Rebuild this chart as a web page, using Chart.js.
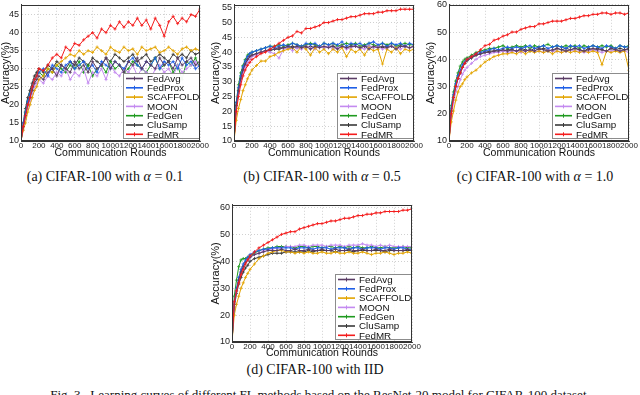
<!DOCTYPE html>
<html>
<head>
<meta charset="utf-8">
<script src="https://cdn.jsdelivr.net/npm/chart.js@4.4.1/dist/chart.umd.min.js"></script>
<style>
  body { margin: 0; background: #fff; width: 640px; height: 395px; overflow: hidden; position: relative; }
  canvas { position: absolute; }
  .cap { position: absolute; font-family: "Liberation Serif", "Times New Roman", serif; font-size: 14px; line-height: 16px; color: #111; white-space: nowrap; transform: translateX(-50%); }
</style>
</head>
<body>
<canvas id="chartA" width="210" height="160" style="left:0px;top:0px"></canvas>
<canvas id="chartB" width="214" height="160" style="left:210px;top:0px"></canvas>
<canvas id="chartC" width="214" height="160" style="left:425px;top:0px"></canvas>
<canvas id="chartD" width="212" height="160" style="left:210px;top:200px"></canvas>

<div class="cap" style="left:105px;top:169px">(a) CIFAR-100 with <i>α</i> = 0.1</div>
<div class="cap" style="left:322px;top:169px">(b) CIFAR-100 with <i>α</i> = 0.5</div>
<div class="cap" style="left:535px;top:169px">(c) CIFAR-100 with <i>α</i> = 1.0</div>
<div class="cap" style="left:315px;top:362px">(d) CIFAR-100 with IID</div>
<div class="cap" style="left:320px;top:387px;font-size:13px">Fig. 3.&nbsp; Learning curves of different FL methods based on the ResNet-20 model for CIFAR-100 dataset.</div>

<script>
const rounds = [0, 25, 50, 75, 100, 125, 150, 175, 200, 250, 300, 350, 400, 450, 500, 550, 600, 650, 700, 750,
    800, 850, 900, 950, 1000, 1050, 1100, 1150, 1200, 1250, 1300, 1350, 1400, 1450, 1500, 1550, 1600, 1650, 1700, 1750,
    1800, 1850, 1900, 1950, 2000];
const methods = ['FedAvg', 'FedProx', 'SCAFFOLD', 'MOON', 'FedGen', 'CluSamp', 'FedMR'];
const colors = ['#5b3d66', '#1f5fe6', '#e3a400', '#c48af0', '#1f9a1f', '#3a3a3a', '#f41c1c'];
const xTicks = [0, 200, 400, 600, 800, 1000, 1200, 1400, 1600, 1800, 2000];

// (a) alpha = 0.1
const accA_FedAvg = [10,14,17,20,22, 24,26,27,28,27, 29,30,28,31,30, 29,32,30,31,29, 32,30,31,33,30, 32,31,29,32,31, 33,30,32,31,30, 33,31,32,30,33, 31,32,33,31,32];
const accA_FedProx = [10,15,18,21,23, 25,27,28,29,30, 28,31,30,29,31, 32,30,31,32,30, 31,29,32,31,30, 32,31,30,32,33, 31,30,32,31,33, 30,32,31,32,30, 33,31,32,30,31];
const accA_SCAFFOLD = [10,13,15,18,20, 22,24,25,27,28, 30,29,31,32,33, 34,33.5,35,34,35, 34.5,36,35,34,36, 35,34.5,36,35,35.5, 34,36,35,35.5,36, 34.5,35,36,35,34, 35.5,36,35,35.5,35];
const accA_MOON = [10,13,16,19,21, 23,25,26,27,26, 28,27,29,28,30, 27,29,28,30,26, 29,28,30,27,31, 29,28,30,29,31, 28,30,29,27,30, 31,29,30,28,31, 29,30,31,32,30];
const accA_FedGen = [10,14,18,21,23, 25,27,28,29,28, 30,29,31,30,29, 31,30,32,29,31, 28,30,31,29,32, 30,31,29,30,32, 31,30,29,31,33, 30,31,32,29,31, 27,32,31,33,30];
const accA_CluSamp = [10,15,19,22,24, 26,28,29,30,29, 31,30,32,31,30, 32,31,33,32,31, 33,32,31,33,32, 34,33,32,33,34, 32,33,34,32,33, 34,33,32,34,33, 34,33,35,34,34.5];
const accA_FedMR = [10,14,17,20,22, 25,27,28,30,29.5, 31,33,34,33,36, 35,37,36.5,38,39, 40,38.5,41,40,42, 41,43,41.5,43,42, 44,42,43.5,41,44, 42,39,43,44.5,42.5, 44,43,45,44.5,46.5];

// (b) alpha = 0.5
const accB_FedAvg = [10,22,27,31,34, 36,37.5,38.5,39,39.5, 40,40.5,41,41,41.5, 41.5,42,41.5,42,41.5, 42,41,42,41.5,42, 41.5,42,41,42,41.5, 42,42,41.5,42,41, 42,41.5,42,41.5,42, 41,42,42,41.5,42];
const accB_FedProx = [10,23,28,32,35, 37,38.5,39.5,40,40.5, 41,41.5,42,41.5,42, 42.5,42,43,42.5,42, 43,42.5,43,42,43, 42.5,43,42.5,43.5,42, 43,42.5,43,42,43, 43.5,42.5,43,42,43, 42.5,43,42,43,42.5];
const accB_SCAFFOLD = [10,17,21,24,27, 29,31,32.5,34,35.5, 37,37,38.5,39,40, 40.5,41,41.5,40,42, 41,39,41.5,40,41, 39.5,41,40,41.5,38.5, 41,40,41,39,41.5, 40.5,41,36,41,40, 41.5,39.5,41,40.5,41];
const accB_MOON = [10,21,26,30,33, 35,36.5,37.5,38.5,39, 40,40.5,40,39.5,38, 41,41.5,40.5,41.5,41, 42,41.5,41,42,41.5, 42,41,41.5,42,41, 41.5,42,41.5,41,42, 41.5,42,41,41.5,42, 41.5,41,42,41.5,42];
const accB_FedGen = [10,23,29,33,35.5, 37.5,39,39.5,40,40.5, 41,41.5,42,42,42.5, 42,42.5,43,42.5,42, 42.5,43,42.5,42,43, 42.5,43,42,42.5,43, 42.5,43,42,42.5,43, 42.5,42,43,42.5,43, 42,42.5,43,42.5,42.5];
const accB_CluSamp = [10,22,27,31,34, 36,37.5,38.5,39,39.5, 40,40.5,40.5,41,41, 41.5,41.5,42,41.5,42, 41.5,42,41.5,42,41.5, 42,42,41.5,42,41.5, 42,42,41.5,42,42, 41.5,42,41.5,42,42, 41.5,42,42,41.5,42];
const accB_FedMR = [10,20,25,29,32, 34,35.5,36.5,37.5,38.5, 39.5,40,41,42,43, 44,45,45.5,47,46.5, 48,48,48.5,49,50, 50,50.5,51,51,51.5, 52,52,52.5,53,53, 53,53.5,53.5,54,54, 54,54.5,54.5,54.5,54.5];

// (c) alpha = 1.0
const accC_FedAvg = [10,21,26,30,33, 35,37,38.5,39.5,40.5, 41.5,42,42.5,42.5,43, 43,43.5,43,43.5,43, 43.5,43,43.5,43,44, 43.5,43,43.5,44,43.5, 43,43.5,44,43.5,43, 43.5,44,43.5,43.5,43, 44,43.5,43,43.5,43.5];
const accC_FedProx = [10,22,27,31,34, 36,38,39,40,41, 42,42.5,43,43.5,44, 43.5,44,44.5,44,44.5, 44,44.5,45,44,44.5, 45,44,44.5,45,44.5, 44,45,44.5,45,44, 44.5,45,44.5,44,45, 44.5,44,45,44.5,44.5];
const accC_SCAFFOLD = [10,17,21,25,28, 30,31,32.5,33.5,35, 36,37.5,39,40,41, 41.5,42,42,42.5,42, 43,42,43,42.5,43, 42.5,43,42,43,42.5, 43,42.5,43,42.5,43, 42.5,43,42.5,38,43, 42.5,43,42.5,43,36];
const accC_MOON = [10,19,24,28,30, 32.5,34.5,36,37,38.5, 40,41,41.5,42,42.5, 42.5,43,42.5,43,43, 42.5,43,43.5,43,43, 42.5,43.5,43,43,42.5, 43,43.5,43,43,42.5, 43,43.5,43,42.5,43, 43,43.5,43,43,42.5];
const accC_FedGen = [10,23,28,32,35, 37.5,39,40,40.5,41.5, 42.5,43,43.5,44,44, 44.5,45,44,44.5,45, 44.5,45,44,45,44.5, 45,45.5,44.5,45,44.5, 45,44.5,45,44,45, 44.5,45,44.5,45,44.5, 45,44,45,44.5,45];
const accC_CluSamp = [10,21,26,30,33, 35,37,38.5,39.5,40.5, 41.5,42,42.5,43,43, 43.5,43,43.5,43.5,43, 44,43.5,43,44,43.5, 44,43.5,43,44,43.5, 44,43.5,44,43.5,43, 44,43.5,44,43.5,43, 44,43.5,44,43.5,44];
const accC_FedMR = [10,20,26,30,33, 35,37,38.5,40,41, 42,43.5,45,45.5,47, 47.5,48.5,49,50,50, 51,51.5,52,52,53, 53,53.5,54,54,54, 54.5,55,55,55.5,56, 56,56.5,56.5,57,57, 56.5,57,57,56.5,57];

// (d) IID
const accD_FedAvg = [10,24,29,33,36, 38,39.5,40.5,41.5,42.5, 43,43.5,44,44,44, 44.5,44,44,44.5,44, 44,44.5,44,44,44.5, 44,44,44.5,44,44, 44.5,44,44,44.5,44, 44,44.5,44,44,44.5, 44,44,44,44.5,44];
const accD_FedProx = [10,25,30,34,37, 39,40.5,41.5,42.5,43.5, 44,44.5,44.5,45,45, 45,45,45,44.5,45, 45,45,44.5,45,45, 45,44.5,45,45,45, 44.5,45,45,44.5,45, 45,45,44.5,45,45, 44.5,45,45,44.5,44.5];
const accD_SCAFFOLD = [10,20,24,27,30, 32,34,35.5,37,39, 41,42,43,43.5,44, 44,43.5,43.5,43,43.5, 43,43.5,43,43,43.5, 43,43,43.5,43,43, 43.5,43,43,43.5,43, 42.5,43,43,43.5,43, 42.5,43,43,43.5,43];
const accD_MOON = [10,24,29,33,36, 38,39.5,40.5,41.5,42.5, 43,44,44.5,44.5,45, 45,45.5,45.5,45.5,46, 46,45.5,46,46,46, 45.5,46,46,46,45.5, 46,46,46,46.5,46, 46,45.5,46,45.5,46, 45.5,45.5,45.5,45.5,45.5];
const accD_FedGen = [10,27,33,38,40.5, 41,41,41.5,42,43, 44,44.5,45,45,45.5, 45.5,45.5,45.5,45,45.5, 45.5,45,45.5,45.5,45, 45.5,45.5,45,45.5,45, 45.5,45,45.5,45,45, 45.5,45,45,45.5,45, 45,45,45.5,45,45];
const accD_CluSamp = [10,23,28,31.5,34, 36,37.5,38.5,40,41, 41.5,42,42.5,43,43, 43,43.5,43.5,43.5,43.5, 43.5,44,43.5,44,44, 44,44,43.5,44,44, 44,43.5,44,44,44, 44,44,44,43.5,44, 44,44,44,44,44];
const accD_FedMR = [10,25,29,32,35, 37,39,40.5,42,43.5, 45,46,47,48,49, 50,50.5,51,51,52, 52.5,53,53.5,54,54, 54.5,55,55,55.5,56, 56,56.5,57,57,57.5, 57.5,58,58,58.5,58.5, 58.5,58.5,59,59,59.5];

const sans = '"Liberation Sans", Arial, Helvetica, sans-serif';

// legend box in the lower right corner plus the closed frame round the plot
const boxLegend = {
    id: 'boxLegend',
    afterDraw(chart) {
        const { ctx, chartArea: ca } = chart;
        ctx.save();
        const w = 77, h = 66;
        const x0 = ca.right - w, y0 = ca.bottom - h - 2;
        ctx.fillStyle = 'rgba(255,255,255,0.95)';
        ctx.fillRect(x0, y0, w, h);
        ctx.strokeStyle = '#8c8c8c';
        ctx.lineWidth = 1;
        ctx.strokeRect(x0 + 0.5, y0 + 0.5, w - 1, h - 1);
        ctx.font = '9.8px ' + sans;
        ctx.textBaseline = 'middle';
        methods.forEach((m, i) => {
            const y = y0 + 5.5 + i * 9.3;
            ctx.strokeStyle = colors[i];
            ctx.lineWidth = 1.6;
            ctx.beginPath();
            ctx.moveTo(x0 + 3, y);
            ctx.lineTo(x0 + 20, y);
            ctx.stroke();
            ctx.lineWidth = 1;
            ctx.beginPath();
            ctx.moveTo(x0 + 11.5, y - 2);
            ctx.lineTo(x0 + 11.5, y + 2);
            ctx.stroke();
            ctx.fillStyle = '#111';
            ctx.fillText(m, x0 + 24, y + 0.5);
        });
        ctx.strokeStyle = '#333';
        ctx.lineWidth = 1;
        ctx.strokeRect(Math.round(ca.left) + 0.5, Math.round(ca.top) + 0.5,
            Math.round(ca.right - ca.left) - 1, Math.round(ca.bottom - ca.top) - 1);
        ctx.restore();
    }
};

function makeChart(id, series, yMax, yWidth, xHeight) {
    const datasets = series.map((vals, i) => ({
        label: methods[i],
        data: rounds.map((r, k) => ({ x: r, y: vals[k] })),
        borderColor: colors[i],
        backgroundColor: colors[i],
        borderWidth: 1,
        pointStyle: 'cross',
        pointRadius: 1.6,
        pointBorderWidth: 0.8,
        tension: 0,
        order: methods[i] === 'FedMR' ? -1 : 0
    }));

    return new Chart(document.getElementById(id).getContext('2d'), {
        type: 'line',
        data: { datasets },
        options: {
            responsive: false,
            animation: false,
            layout: { padding: { top: 3, right: 10, left: 0, bottom: 0 } },
            plugins: { legend: { display: false }, tooltip: { enabled: false } },
            scales: {
                x: {
                    type: 'linear',
                    min: 0,
                    max: 2000,
                    afterBuildTicks: s => { s.ticks = xTicks.map(v => ({ value: v })); },
                    afterFit: s => { s.height = xHeight; s.paddingLeft = 0; s.paddingRight = 0; },
                    ticks: { autoSkip: false, maxRotation: 0, padding: 0, color: '#222',
                        callback: v => String(v), font: { family: sans, size: 8 } },
                    grid: { color: '#c4c4c4', lineWidth: 0.8, drawTicks: false },
                    border: { color: '#333', dash: [1, 2] },
                    title: { display: true, text: 'Communication Rounds', color: '#111',
                        padding: { top: 0, bottom: 1.5 }, font: { family: sans, size: 10.5, lineHeight: 1 } }
                },
                y: {
                    min: 10,
                    max: yMax,
                    afterFit: s => { s.width = yWidth; s.paddingTop = 0; s.paddingBottom = 0; },
                    ticks: { stepSize: 5, includeBounds: false, padding: 2, color: '#222', font: { family: sans, size: 9 } },
                    grid: { color: '#c4c4c4', lineWidth: 0.8, drawTicks: false },
                    border: { color: '#333', dash: [1, 2] },
                    title: { display: true, text: 'Accuracy(%)', color: '#111',
                        padding: 0, font: { family: sans, size: 11, lineHeight: 1 } }
                }
            }
        },
        plugins: [boxLegend]
    });
}

makeChart('chartA', [accA_FedAvg, accA_FedProx, accA_SCAFFOLD, accA_MOON, accA_FedGen, accA_CluSamp, accA_FedMR], 47.7, 21, 19);
makeChart('chartB', [accB_FedAvg, accB_FedProx, accB_SCAFFOLD, accB_MOON, accB_FedGen, accB_CluSamp, accB_FedMR], 56, 24, 19);
makeChart('chartC', [accC_FedAvg, accC_FedProx, accC_SCAFFOLD, accC_MOON, accC_FedGen, accC_CluSamp, accC_FedMR], 60, 24, 19);
makeChart('chartD', [accD_FedAvg, accD_FedProx, accD_SCAFFOLD, accD_MOON, accD_FedGen, accD_CluSamp, accD_FedMR], 61, 22, 18);
</script>
</body>
</html>
